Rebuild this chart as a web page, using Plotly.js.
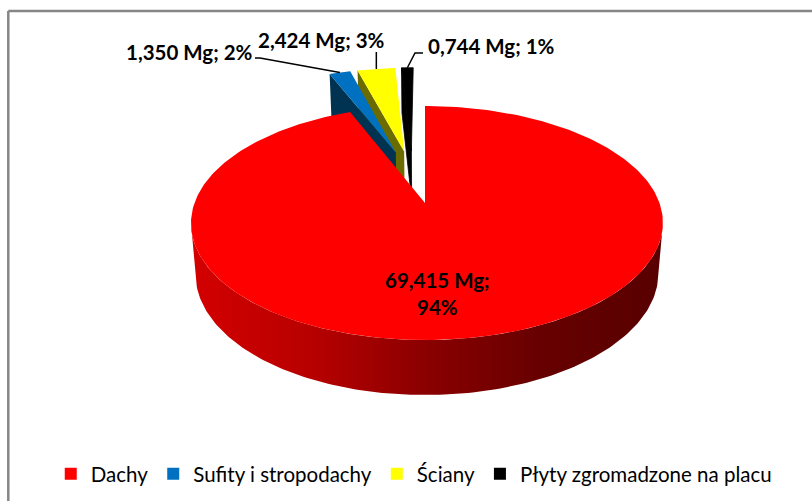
<!DOCTYPE html>
<html>
<head>
<meta charset="utf-8">
<script src="https://cdn.plot.ly/plotly-3.0.1.min.js"></script>
<style>html,body{margin:0;padding:0;background:#fff}#chart{width:812px;height:501px}</style>
</head>
<body>
<div id="chart"></div>
<script>
// ---- data ----
const categories = ['Dachy', 'Sufity i stropodachy', 'Ściany', 'Płyty zgromadzone na placu'];
const massMg = [69.415, 1.350, 2.424, 0.744];
const valueLabels = ['69,415 Mg;<br>94%', '1,350 Mg; 2%', '2,424 Mg; 3%', '0,744 Mg; 1%'];
const topColors = ['#ff0000', '#0070c0', '#ffff00', '#000000'];
const cutColors = ['#800000', '#003352', '#6b6b00', '#000000'];

// ---- geometry of the tilted, exploded pie (screen pixels) ----
const origin = {x: 425, y: 203};
const topFace = {a: 232.5, b: 113.6, p: 0.171, drop: 0, lean: 2};
const baseFace = {a: 228, b: 117.7, p: 0.171, drop: 50, lean: 2};
const explode = 0.25;
const smallSliceShift = 0.008;
const FONT = 'Lato, Carlito, "Open Sans", sans-serif';

const total = massMg.reduce((s, v) => s + v, 0);
const rad = d => d * Math.PI / 180;
let cursor = 0;
const slices = massMg.map(v => {
  const s = {start: cursor, end: cursor + v / total * 360};
  cursor = s.end;
  s.mid = (s.start + s.end) / 2;
  return s;
});
const refMid = rad(slices[0].mid);
slices.forEach((s, i) => {
  s.cx = explode * (Math.sin(rad(s.mid)) - Math.sin(refMid)) - (i ? smallSliceShift : 0);
  s.cy = explode * (Math.cos(rad(s.mid)) - Math.cos(refMid));
});
function project(s, r, deg, face) {
  const sn = Math.sin(rad(deg));
  const X = s.cx + r * sn;
  const Y = s.cy + r * Math.cos(rad(deg));
  const w = 1 + face.p * Y;
  return [origin.x + face.a * X / w + face.lean * r * sn * sn, origin.y + face.drop - face.b * Y / w];
}
function arc(s, from, to, face) {
  const pts = [], n = Math.max(2, Math.ceil(Math.abs(to - from)));
  for (let i = 0; i <= n; i++) pts.push(project(s, 1, from + (to - from) * i / n, face));
  return pts;
}
function poly(points, color, extra) {
  const p = points.concat([points[0]]);
  return Object.assign({
    type: 'scatter', mode: 'lines', x: p.map(q => q[0]), y: p.map(q => q[1]),
    fill: 'toself', fillcolor: color, line: {width: 0, color: color},
    hoverinfo: 'skip', showlegend: false
  }, extra || {});
}

const traces = [];
// the three pulled-out small slices, painted from the back (right) to the front (left)
[3, 2, 1].forEach(i => {
  const s = slices[i];
  const seam = i === 3 ? {line: {width: 0.8, color: topColors[i]}} : {};
  traces.push(poly([project(s, 0, 0, topFace), project(s, 1, s.start, topFace),
                    project(s, 1, s.start, baseFace), project(s, 0, 0, baseFace)], cutColors[i], seam));
  traces.push(poly([project(s, 0, 0, topFace)].concat(arc(s, s.start, s.end, topFace)), topColors[i], seam));
});
// red side wall with left-to-right shading
const red = slices[0];
traces.push(poly(arc(red, 100, 260, topFace).concat(arc(red, 260, 100, baseFace)), '#900000', {
  fillgradient: {type: 'horizontal', colorscale: [
    [0, '#d40000'], [0.25, '#b80000'], [0.5, '#8a0000'], [0.75, '#660000'], [1, '#580000']
  ]}
}));
traces.push(poly([project(red, 0, 0, topFace)].concat(arc(red, red.start, red.end, topFace)), topColors[0]));

// legend entries
categories.forEach((c, i) => traces.push({
  type: 'scatter', mode: 'markers', x: [null], y: [null], name: c,
  marker: {symbol: 'square', size: 12, color: topColors[i]}, hoverinfo: 'skip', showlegend: true
}));

// leader lines run from the middle of each slice's rim to its label
const annFont = {family: FONT, size: 20.5, color: '#000', weight: 700};
const rim = i => project(slices[i], 1, slices[i].mid, topFace);
const leaders = [
  [[255, 58], [260, 58], rim(1)],
  [[rim(2)[0], 52], rim(2)],
  [[423, 53], [415, 53], rim(3)]
];
leaders.forEach(l => traces.push({
  type: 'scatter', mode: 'lines', x: l.map(q => q[0]), y: l.map(q => q[1]),
  line: {color: '#000', width: 1.5}, hoverinfo: 'skip', showlegend: false
}));

const labelAt = [[437, 293], [189, 52], [321, 40], [491, 46]];
const annotations = valueLabels.map((t, i) => ({
  xref: 'x', yref: 'y', x: labelAt[i][0], y: labelAt[i][1], text: t, showarrow: false,
  font: annFont, xanchor: 'center', yanchor: 'middle', align: 'center'
}));

const frame = {type: 'line', line: {color: '#868686', width: 2.5}, layer: 'below'};
const layout = {
  width: 812, height: 501,
  margin: {l: 0, r: 0, t: 0, b: 0},
  paper_bgcolor: '#fff', plot_bgcolor: '#fff',
  xaxis: {range: [0, 812], visible: false, fixedrange: true},
  yaxis: {range: [501, 0], visible: false, fixedrange: true},
  showlegend: true,
  legend: {
    orientation: 'h', x: 0.0625, xanchor: 'left', y: 0.054, yanchor: 'middle',
    font: {family: FONT, size: 20.5, color: '#000'}, bgcolor: 'rgba(0,0,0,0)',
    itemclick: false, itemdoubleclick: false, traceorder: 'normal', itemwidth: 30
  },
  annotations: annotations,
  shapes: [
    Object.assign({xref: 'x', yref: 'y', x0: 8.3, x1: 812, y0: 11, y1: 11}, frame),
    Object.assign({xref: 'x', yref: 'y', x0: 8.3, x1: 8.3, y0: 11, y1: 501}, frame)
  ]
};
Plotly.newPlot('chart', traces, layout, {displayModeBar: false, staticPlot: true});
</script>
</body>
</html>
